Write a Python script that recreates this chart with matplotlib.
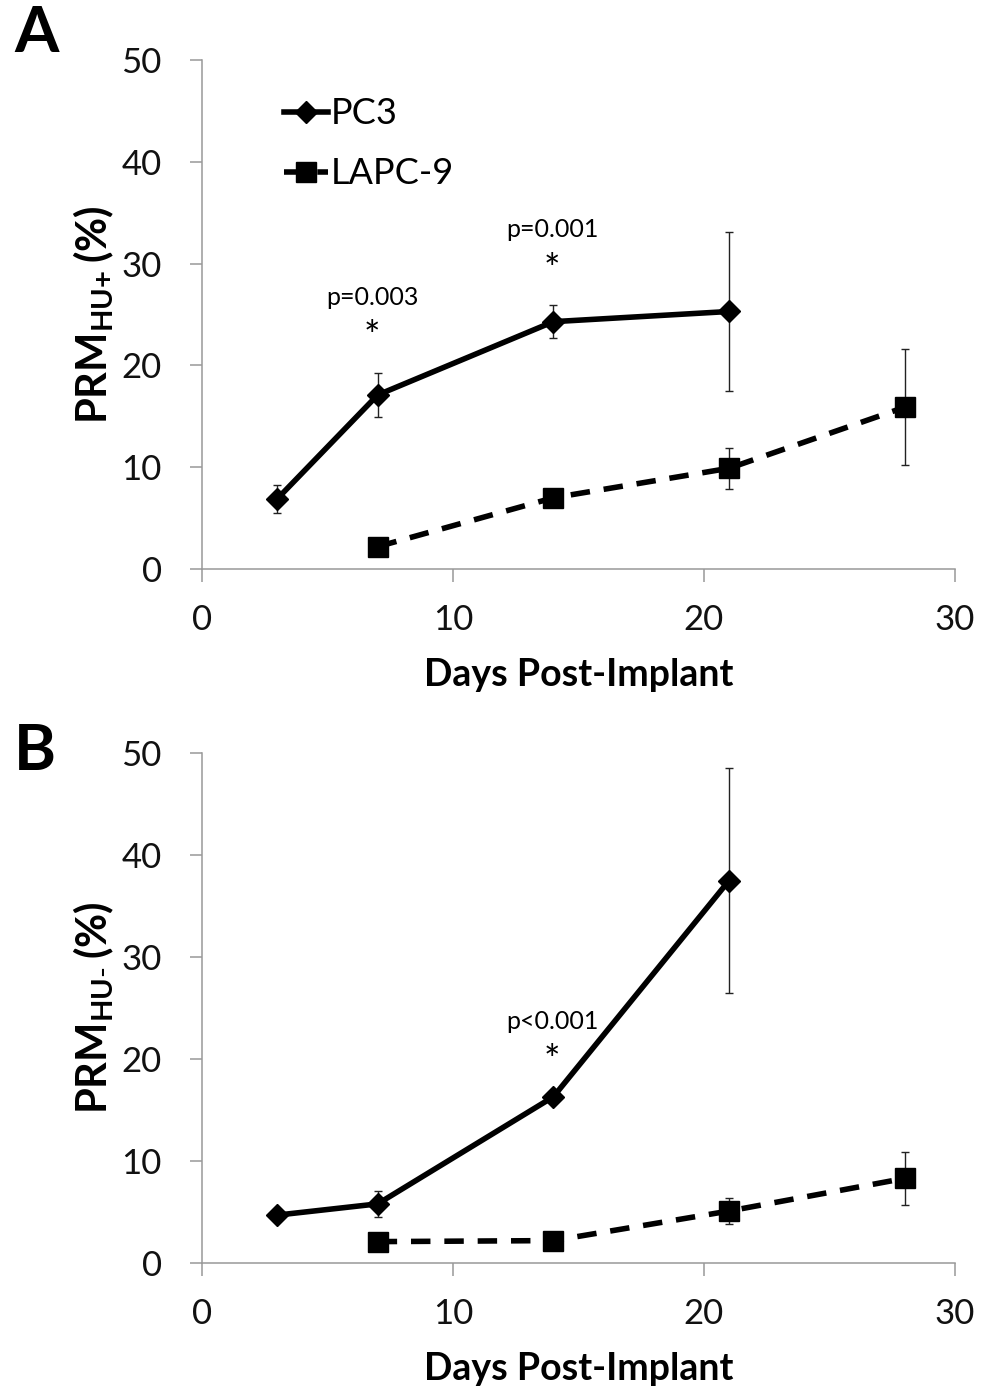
import numpy as np
import matplotlib.pyplot as plt

plt.rcParams['font.family'] = ['Lato', 'DejaVu Sans']
plt.rcParams['mathtext.fontset'] = 'custom'
plt.rcParams['mathtext.bf'] = 'Lato:bold'
plt.rcParams['mathtext.rm'] = 'Lato'

# days post-implant
days_pc3 = [3, 7, 14, 21]
days_lapc = [7, 14, 21, 28]

# panel A: PRM HU+
pc3_a = [6.9, 17.1, 24.3, 25.3]
pc3_a_err = [1.4, 2.2, 1.6, 7.8]
lapc_a = [2.2, 7.0, 9.9, 15.9]
lapc_a_err = [0.0, 0.6, 2.0, 5.7]

# panel B: PRM HU-
pc3_b = [4.7, 5.8, 16.3, 37.5]
pc3_b_err = [0.0, 1.3, 0.0, 11.0]
lapc_b = [2.1, 2.2, 5.1, 8.3]
lapc_b_err = [0.0, 0.0, 1.3, 2.6]

ylabels = [r'$\mathbf{PRM}_{\mathbf{HU{+}}}\,\mathbf{(\%)}$',
           r'$\mathbf{PRM}_{\mathbf{HU\text{-}}}\,\mathbf{(\%)}$']
pvals_a = [(7, 'p=0.003'), (14, 'p=0.001')]
pvals_b = [(14, 'p<0.001')]

DASH = (0, (3.5, 2.5))
LW = 4.0

fig = plt.figure(figsize=(9.93, 13.93), dpi=100)
ax_a = fig.add_axes([0.2034, 0.5915, 0.7583, 0.3654])
ax_b = fig.add_axes([0.2034, 0.0933, 0.7583, 0.3661])

panels = [
    (ax_a, pc3_a, pc3_a_err, lapc_a, lapc_a_err, pvals_a, 'A', 33),
    (ax_b, pc3_b, pc3_b_err, lapc_b, lapc_b_err, pvals_b, 'B', 752),
]

for k, (ax, pc3, pc3_err, lapc, lapc_err, pvals, letter, ly) in enumerate(panels):
    ax.plot(days_pc3, pc3, color='black', lw=LW, solid_joinstyle='round', zorder=3)
    ax.plot(days_lapc, lapc, color='black', lw=LW, ls=DASH, zorder=3)

    ax.errorbar(days_pc3, pc3, yerr=pc3_err, fmt='none', ecolor='#222222',
                elinewidth=1, capsize=3, capthick=1, zorder=4)
    ax.errorbar(days_lapc, lapc, yerr=lapc_err, fmt='none', ecolor='#222222',
                elinewidth=1, capsize=3, capthick=1, zorder=4)

    ax.plot(days_pc3, pc3, ls='none', marker='D', ms=11.5, color='black', zorder=5)
    ax.plot(days_lapc, lapc, ls='none', marker='s', ms=14, color='black', zorder=5)

    for d, txt in pvals:
        i = days_pc3.index(d)
        top = pc3[i] + pc3_err[i]
        dx = -4 if d == 7 else -1
        ax.annotate(txt, (d, top), xytext=(dx, 46), textcoords='offset points',
                    ha='center', va='bottom', fontsize=18)
        ax.annotate('*', (d, top), xytext=(dx, 12), textcoords='offset points',
                    ha='center', va='bottom', fontsize=28)

    ax.set_xlim(0, 30)
    ax.set_ylim(0, 50)
    ax.set_xticks([0, 10, 20, 30])
    ax.set_yticks([0, 10, 20, 30, 40, 50])
    for s in ['top', 'right']:
        ax.spines[s].set_visible(False)
    for s in ['left', 'bottom']:
        ax.spines[s].set_color('#999999')
        ax.spines[s].set_linewidth(1.1)
    ax.tick_params(axis='both', direction='out', length=9, width=1.1, color='#999999',
                   labelsize=25, labelcolor='#111111')
    ax.tick_params(axis='y', pad=20)
    ax.tick_params(axis='x', pad=16)
    ax.set_xlabel('Days Post-Implant', fontsize=27, fontweight='bold', labelpad=16)
    ax.set_ylabel(ylabels[k], fontsize=30, labelpad=4)
    fig.text(14 / 993, 1 - ly / 1393, letter, fontsize=46, fontweight='bold',
             ha='left', va='center')

# legend only in panel A
h1, = ax_a.plot([], [], color='black', lw=LW, marker='D', ms=11.5)
h2, = ax_a.plot([], [], color='black', lw=LW, ls=DASH, marker='s', ms=14)
ax_a.legend([h1, h2], ['PC3', 'LAPC-9'], loc='upper left', bbox_to_anchor=(0.09, 0.955),
            frameon=False, fontsize=26, handlelength=1.2, handletextpad=0.1,
            labelspacing=0.75, borderaxespad=0)

fig.savefig('out.png', dpi=100)
